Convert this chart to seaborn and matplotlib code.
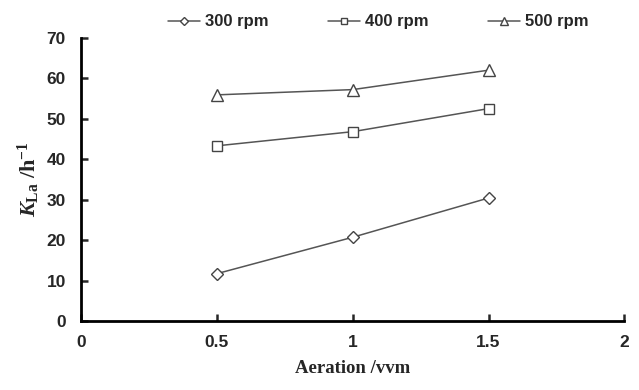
import pandas as pd
import matplotlib
matplotlib.use("Agg")
import matplotlib.pyplot as plt
import seaborn as sns

# Данные
aeration = [0.5, 1.0, 1.5]
kla_300 = [11.7, 20.7, 30.4]
kla_400 = [43.3, 46.8, 52.5]
kla_500 = [55.9, 57.2, 62.0]
speeds = ["300 rpm", "400 rpm", "500 rpm"]

df = pd.DataFrame({
    "Aeration": aeration * 3,
    "KLa": kla_300 + kla_400 + kla_500,
    "Speed": [s for s in speeds for _ in aeration],
})

sns.set_theme(style="ticks")
plt.rcParams["font.family"] = ["Liberation Sans", "DejaVu Sans"]
plt.rcParams["mathtext.fontset"] = "custom"
plt.rcParams["mathtext.rm"] = "Liberation Serif:bold"
plt.rcParams["mathtext.it"] = "Liberation Serif:italic:bold"
plt.rcParams["mathtext.bf"] = "Liberation Serif:bold"

fig = plt.figure(figsize=(6.39, 3.9), dpi=100)
ax = fig.add_axes([0.127, 0.177, 0.85, 0.726])

sns.lineplot(
    data=df, x="Aeration", y="KLa", hue="Speed", style="Speed",
    palette=["#555555"] * 3, markers={"300 rpm": "D", "400 rpm": "s", "500 rpm": "^"},
    dashes=False, linewidth=1.1, markersize=7, markerfacecolor="white",
    markeredgecolor="#444444", markeredgewidth=1.0, ax=ax, legend=False,
)
# ромб чуть меньше квадрата
for line, ms in zip(ax.lines, [6, 7, 8]):
    line.set_markersize(ms)

ax.set_xlim(0, 2)
ax.set_ylim(0, 70)
ax.set_xticks([0, 0.5, 1, 1.5, 2])
ax.set_xticklabels(["0", "0.5", "1", "1.5", "2"])
ax.set_yticks(range(0, 71, 10))
ax.tick_params(direction="in", length=5, width=1.8, labelsize=12.5)
ax.tick_params(axis="x", pad=10)
ax.tick_params(axis="y", pad=11)
for lab in ax.get_xticklabels() + ax.get_yticklabels():
    lab.set_fontweight("bold")
for side in ["left", "bottom"]:
    ax.spines[side].set_linewidth(2)
    ax.spines[side].set_color("black")
sns.despine(ax=ax)

ax.set_xlabel("Aeration /vvm", family="Liberation Serif", fontweight="bold", fontsize=13.5, labelpad=7)
ax.set_ylabel(r"$\mathit{K}_{\mathrm{La}}$ /h$^{-1}$", family="Liberation Serif", fontweight="bold",
              fontsize=16, labelpad=3)

handles = ax.lines[:3]
fig.legend(handles, speeds, loc="center", bbox_to_anchor=(0.592, 0.944), ncol=3, frameon=False,
           prop={"weight": "bold", "size": 12}, handlelength=1.9, handletextpad=0.3,
           columnspacing=3.6, markerscale=0.7)

fig.savefig("out.png", dpi=100)
